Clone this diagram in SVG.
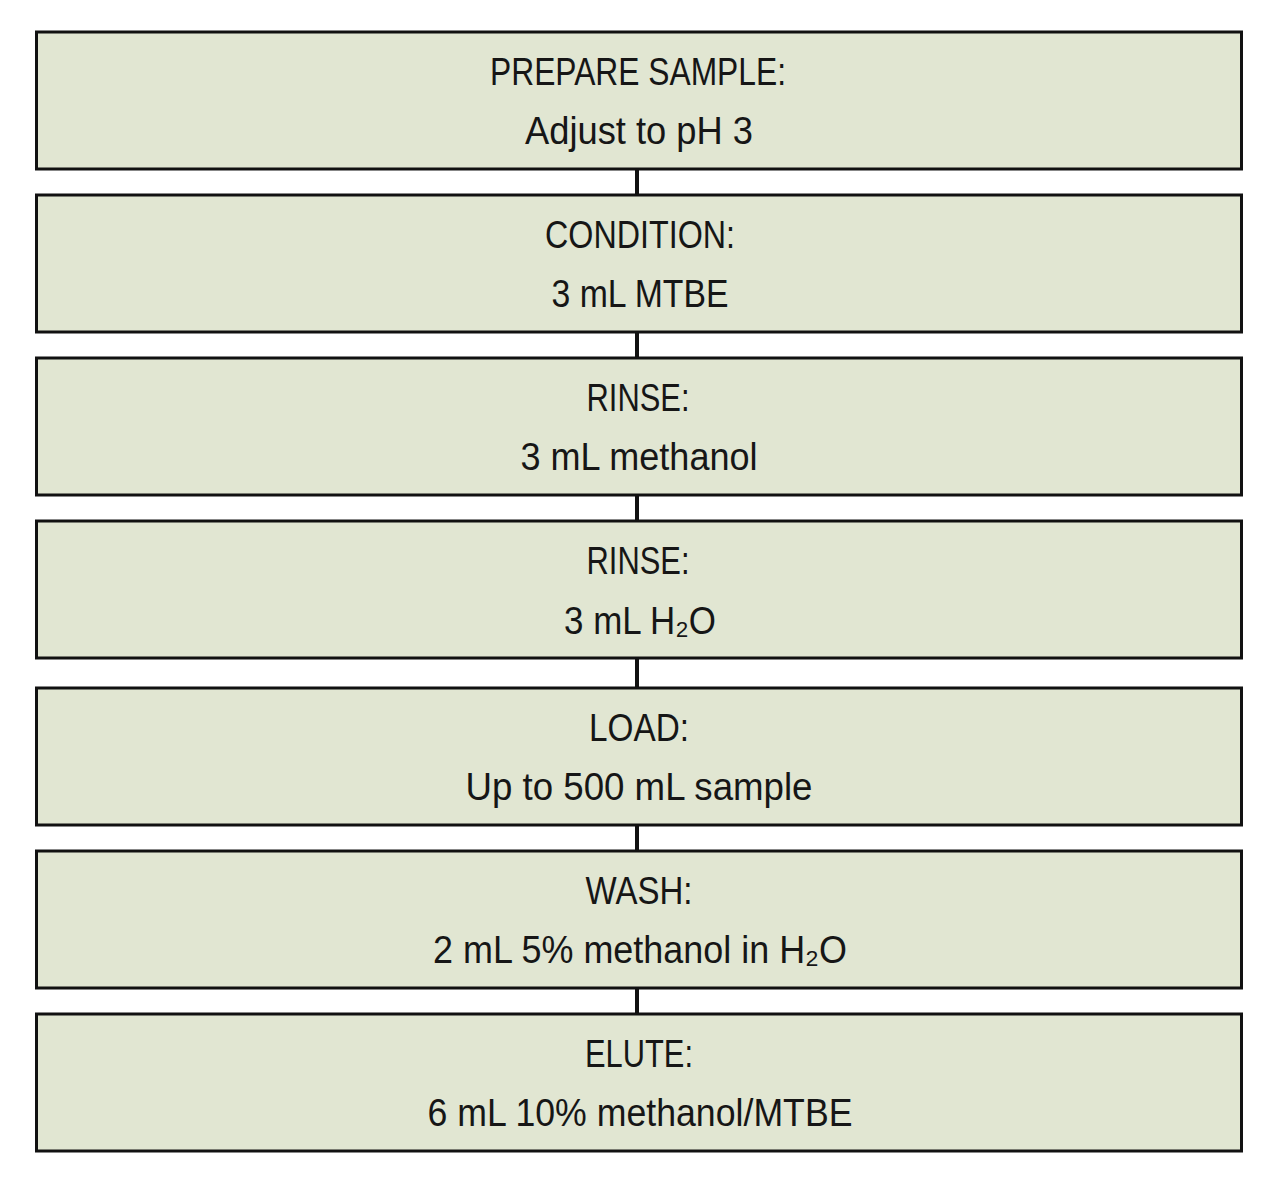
<svg xmlns="http://www.w3.org/2000/svg" width="1280" height="1191" viewBox="0 0 1280 1191">
<style>
.box{fill:#e1e6d2;stroke:#111;stroke-width:3}
.t{font-family:"Liberation Sans",Arial,sans-serif;font-size:38px;fill:#161616;text-anchor:middle}
.con{stroke:#111;stroke-width:4;fill:none}
</style>
<rect width="1280" height="1191" fill="#ffffff"/>
<g id="connectors">
<line class="con" x1="637" y1="169" x2="637" y2="195"/>
<line class="con" x1="637" y1="332" x2="637" y2="358"/>
<line class="con" x1="637" y1="495" x2="637" y2="521"/>
<line class="con" x1="637" y1="658" x2="637" y2="688"/>
<line class="con" x1="637" y1="825" x2="637" y2="851"/>
<line class="con" x1="637" y1="988" x2="637" y2="1014"/>
</g>
<g id="prepare">
<rect class="box" x="36.5" y="32" width="1205" height="137"/>
<text class="t" x="638" y="85" textLength="296" lengthAdjust="spacingAndGlyphs">PREPARE SAMPLE:</text>
<text class="t" x="639" y="144" textLength="228" lengthAdjust="spacingAndGlyphs">Adjust to pH 3</text>
</g>
<g id="condition">
<rect class="box" x="36.5" y="195" width="1205" height="137"/>
<text class="t" x="640" y="248" textLength="190" lengthAdjust="spacingAndGlyphs">CONDITION:</text>
<text class="t" x="640" y="307" textLength="177" lengthAdjust="spacingAndGlyphs">3 mL MTBE</text>
</g>
<g id="rinse1">
<rect class="box" x="36.5" y="358" width="1205" height="137"/>
<text class="t" x="638" y="411" textLength="103" lengthAdjust="spacingAndGlyphs">RINSE:</text>
<text class="t" x="639" y="470" textLength="237" lengthAdjust="spacingAndGlyphs">3 mL methanol</text>
</g>
<g id="rinse2">
<rect class="box" x="36.5" y="521" width="1205" height="137"/>
<text class="t" x="638" y="574" textLength="103" lengthAdjust="spacingAndGlyphs">RINSE:</text>
<text class="t" x="640" y="634" textLength="152" lengthAdjust="spacingAndGlyphs">3 mL H₂O</text>
</g>
<g id="load">
<rect class="box" x="36.5" y="688" width="1205" height="137"/>
<text class="t" x="639" y="741" textLength="100" lengthAdjust="spacingAndGlyphs">LOAD:</text>
<text class="t" x="639" y="800" textLength="347" lengthAdjust="spacingAndGlyphs">Up to 500 mL sample</text>
</g>
<g id="wash">
<rect class="box" x="36.5" y="851" width="1205" height="137"/>
<text class="t" x="639" y="904" textLength="107" lengthAdjust="spacingAndGlyphs">WASH:</text>
<text class="t" x="640" y="963" textLength="414" lengthAdjust="spacingAndGlyphs">2 mL 5% methanol in H₂O</text>
</g>
<g id="elute">
<rect class="box" x="36.5" y="1014" width="1205" height="137"/>
<text class="t" x="639" y="1067" textLength="108" lengthAdjust="spacingAndGlyphs">ELUTE:</text>
<text class="t" x="640" y="1126" textLength="425" lengthAdjust="spacingAndGlyphs">6 mL 10% methanol/MTBE</text>
</g>
</svg>
